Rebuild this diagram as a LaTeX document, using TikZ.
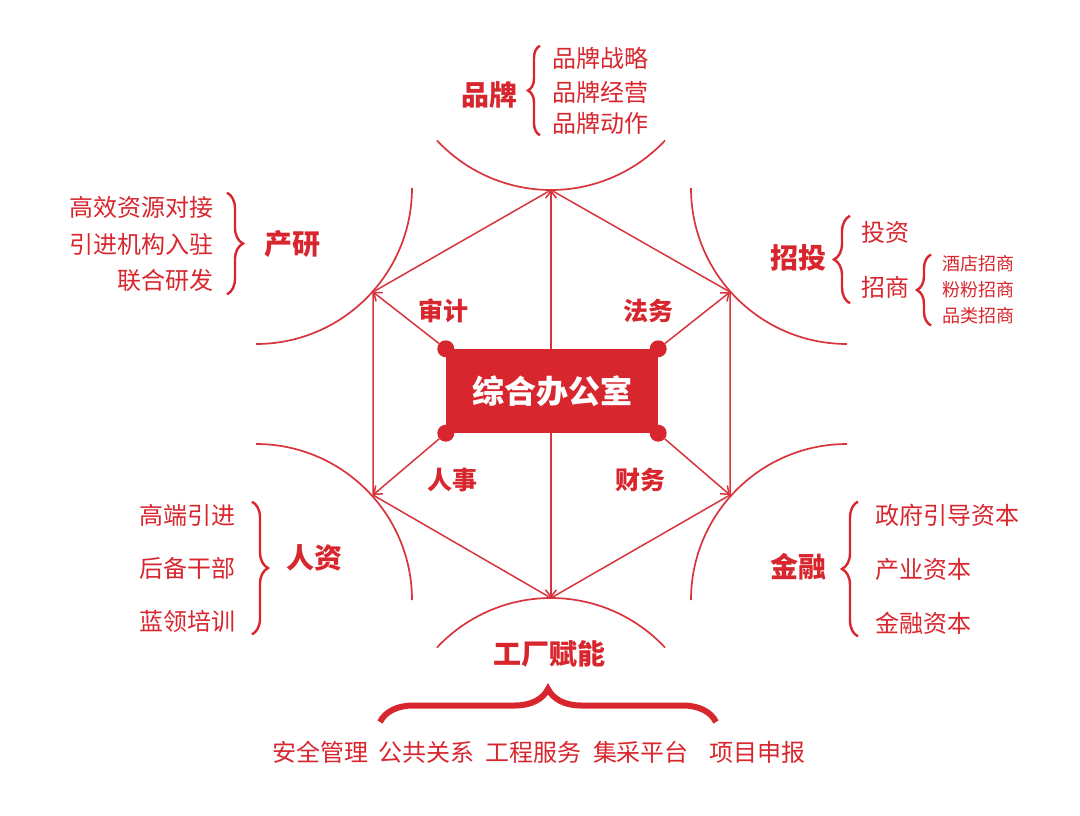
\documentclass[tikz,border=0pt]{standalone}
\usepackage{fontspec}
\setmainfont{Noto Sans CJK SC}
\usetikzlibrary{arrows.meta,calc,decorations.pathreplacing}
\definecolor{hubred}{HTML}{D8262E}
\definecolor{linered}{HTML}{D8343C}

\begin{document}
\begin{tikzpicture}[x=1pt, y=-1pt,
    ln/.style={draw=linered, line width=1.5pt},
    arr/.style={ln, -{Straight Barb[length=7pt, width=11pt]}},
    rim/.style={draw=linered, line width=1.7pt},
    head/.style={font=\fontsize{28}{32}\selectfont\bfseries, text=hubred, inner sep=1pt},
    dept/.style={font=\fontsize{25}{28}\selectfont\bfseries, text=hubred, inner sep=1pt},
    item/.style={font=\fontsize{24}{27}\selectfont, text=hubred, inner sep=1pt},
    subitem/.style={font=\fontsize{18}{21}\selectfont, text=hubred, inner sep=1pt},
    brc/.style={draw=hubred, line width=2.4pt, decorate, decoration={brace, amplitude=#1}},
    brc/.default=14,
    cornerdot/.style={circle, fill=hubred, minimum size=17pt, inner sep=0pt},
]
\useasboundingbox (0,0) rectangle (1080,815);

\coordinate (t) at (551,190);
\coordinate (ur) at (730,292);
\coordinate (lr) at (730,495);
\coordinate (b) at (551,598);
\coordinate (ll) at (373,495);
\coordinate (ul) at (373,292);

\draw[rim] (551,34) ++(137:156) arc[start angle=137, end angle=43, radius=156];
\draw[rim] (847,188) ++(180:156) arc[start angle=180, end angle=90, radius=156];
\draw[rim] (256,188) ++(90:156) arc[start angle=90, end angle=0, radius=156];
\draw[rim] (256,600) ++(270:156) arc[start angle=270, end angle=360, radius=156];
\draw[rim] (847,600) ++(270:156) arc[start angle=270, end angle=180, radius=156];
\draw[rim] (551,754) ++(223:156) arc[start angle=223, end angle=317, radius=156];

\draw[ln] (t) -- (ur) -- (lr) -- (b) -- (ll) -- (ul) -- cycle;

\node[fill=hubred, minimum width=212pt, minimum height=84pt, text=white,
      font=\fontsize{32}{36}\selectfont\bfseries] (office) at (552,391) {综合办公室};
\node[cornerdot] (dul) at (office.north west) {};
\node[cornerdot] (dur) at (office.north east) {};
\node[cornerdot] (dll) at (office.south west) {};
\node[cornerdot] (dlr) at (office.south east) {};

\draw[arr] (office.north -| t) -- (t);
\draw[arr] (office.south -| b) -- (b);
\draw[arr] (dul) -- (ul);
\draw[arr] (dur) -- (ur);
\draw[arr] (dll) -- (ll);
\draw[arr] (dlr) -- (lr);

\node[dept] (audit) at (443,311) {审计};
\node[dept] (legal) at (648,311) {法务};
\node[dept] (hr) at (452,480) {人事};
\node[dept] (fin) at (640,480) {财务};

\node[head] (brand) at (489,95) {品牌};
\node[item, anchor=west] (br1) at (551,58) {品牌战略};
\node[item, anchor=west] (br2) at (551,92) {品牌经营};
\node[item, anchor=west] (br3) at (551,123) {品牌动作};
\draw[brc=12] ($(br3.south west)+(-11,0)$) -- ($(br1.north west)+(-11,0)$);

\node[head] (rnd) at (292,244) {产研};
\node[item, anchor=east] (rd1) at (215,207) {高效资源对接};
\node[item, anchor=east] (rd2) at (215,244) {引进机构入驻};
\node[item, anchor=east] (rd3) at (215,280) {联合研发};
\draw[brc=16] ($(rd1.north east)+(12,-2)$) -- ($(rd3.south east)+(12,2)$);

\node[head] (invest) at (798,258) {招投};
\node[item, anchor=west] (iv1) at (860,232) {投资};
\node[item, anchor=west] (iv2) at (860,287) {招商};
\draw[brc=16] ($(iv2.south west)+(-10,4)$) -- ($(iv1.north west)+(-10,-4)$);
\node[subitem, anchor=west] (ms1) at (941,264) {酒店招商};
\node[subitem, anchor=west] (ms2) at (941,290) {粉粉招商};
\node[subitem, anchor=west] (ms3) at (941,316) {品类招商};
\draw[brc=14] ($(ms3.south west)+(-10,0)$) -- ($(ms1.north west)+(-10,0)$);

\node[head] (talent) at (314,558) {人资};
\node[item, anchor=east] (tl1) at (237,515) {高端引进};
\node[item, anchor=east] (tl2) at (237,568) {后备干部};
\node[item, anchor=east] (tl3) at (237,621) {蓝领培训};
\draw[brc=16] ($(tl1.north east)+(15,-1)$) -- ($(tl3.south east)+(15,1)$);

\node[head] (money) at (798,567) {金融};
\node[item, anchor=west] (mn1) at (874,515) {政府引导资本};
\node[item, anchor=west] (mn2) at (874,569) {产业资本};
\node[item, anchor=west] (mn3) at (874,623) {金融资本};
\draw[brc=16] ($(mn3.south west)+(-16,1)$) -- ($(mn1.north west)+(-16,-1)$);

\node[head] (factory) at (549,654) {工厂赋能};
\coordinate (fl) at (380,722);
\coordinate (fr) at (716,722);
\draw[brc=33, line width=6pt] (fl) -- (fr);
\node[item] (svc) at (539,752) {安全管理\hspace{11pt}公共关系\hspace{11pt}工程服务\hspace{11pt}集采平台\hspace{21pt}项目申报};

\end{tikzpicture}
\end{document}
